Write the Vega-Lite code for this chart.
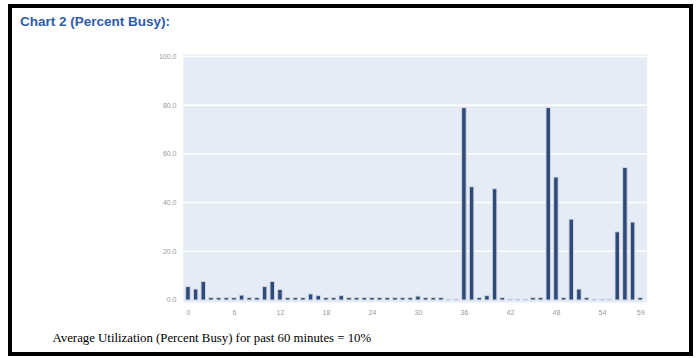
{
  "$schema": "https://vega.github.io/schema/vega-lite/v6.json",
  "width": 681,
  "height": 348,
  "autosize": {"type": "none"},
  "padding": {"left": 10, "top": 6, "right": 6, "bottom": 4},
  "background": "#ffffff",
  "config": {"view": {"stroke": "#000000", "strokeWidth": 4, "fill": "#ffffff"}},
  "title": {
    "text": "Chart 2 (Percent Busy):",
    "anchor": "start",
    "frame": "group",
    "offset": -22,
    "dx": 10,
    "font": "Liberation Sans",
    "fontSize": 13.5,
    "fontWeight": "bold",
    "color": "#2f5ca6"
  },
  "layer": [
    {
      "data": {"values": [{}]},
      "mark": {"type": "rect", "color": "#e6ecf6"},
      "encoding": {
        "x": {"datum": -0.6, "type": "quantitative", "scale": {"domain": [-22.56, 64.97], "nice": false, "zero": false}},
        "x2": {"datum": 59.9},
        "y": {"datum": -1, "type": "quantitative", "scale": {"domain": [-22.18, 120.74], "nice": false, "zero": false}},
        "y2": {"datum": 100.8}
      }
    },
    {
      "data": {"values": [{"grid": 20}, {"grid": 40}, {"grid": 60}, {"grid": 80}, {"grid": 100}]},
      "mark": {"type": "rule", "color": "#ffffff", "strokeWidth": 1.5},
      "encoding": {
        "y": {"field": "grid", "type": "quantitative"},
        "x": {"datum": -0.6, "type": "quantitative"},
        "x2": {"datum": 59.9}
      }
    },
    {
      "data": {"values": [
        {"minute": 0, "busy": 5.5}, {"minute": 1, "busy": 4.5}, {"minute": 2, "busy": 7.6}, {"minute": 3, "busy": 1},
        {"minute": 4, "busy": 1}, {"minute": 5, "busy": 1}, {"minute": 6, "busy": 1}, {"minute": 7, "busy": 2},
        {"minute": 8, "busy": 1}, {"minute": 9, "busy": 1}, {"minute": 10, "busy": 5.5}, {"minute": 11, "busy": 7.6},
        {"minute": 12, "busy": 4.3}, {"minute": 13, "busy": 1}, {"minute": 14, "busy": 1}, {"minute": 15, "busy": 1},
        {"minute": 16, "busy": 2.5}, {"minute": 17, "busy": 1.8}, {"minute": 18, "busy": 1}, {"minute": 19, "busy": 1},
        {"minute": 20, "busy": 1.8}, {"minute": 21, "busy": 1}, {"minute": 22, "busy": 1}, {"minute": 23, "busy": 1},
        {"minute": 24, "busy": 1}, {"minute": 25, "busy": 1}, {"minute": 26, "busy": 1}, {"minute": 27, "busy": 1},
        {"minute": 28, "busy": 1}, {"minute": 29, "busy": 1}, {"minute": 30, "busy": 1.6}, {"minute": 31, "busy": 1},
        {"minute": 32, "busy": 1}, {"minute": 33, "busy": 1}, {"minute": 34, "busy": 0.3}, {"minute": 35, "busy": 0.3},
        {"minute": 36, "busy": 79}, {"minute": 37, "busy": 46.5}, {"minute": 38, "busy": 1}, {"minute": 39, "busy": 1.8},
        {"minute": 40, "busy": 45.7}, {"minute": 41, "busy": 1}, {"minute": 42, "busy": 0.3}, {"minute": 43, "busy": 0.3},
        {"minute": 44, "busy": 0.3}, {"minute": 45, "busy": 1}, {"minute": 46, "busy": 1}, {"minute": 47, "busy": 79},
        {"minute": 48, "busy": 50.5}, {"minute": 49, "busy": 1}, {"minute": 50, "busy": 33.2}, {"minute": 51, "busy": 4.5},
        {"minute": 52, "busy": 1}, {"minute": 53, "busy": 0.3}, {"minute": 54, "busy": 0.3}, {"minute": 55, "busy": 0.3},
        {"minute": 56, "busy": 28}, {"minute": 57, "busy": 54.4}, {"minute": 58, "busy": 32}, {"minute": 59, "busy": 1}
      ]},
      "mark": {"type": "bar", "size": 4.5, "color": "#2e4a78", "stroke": "#cfd6e1", "strokeWidth": 1},
      "encoding": {
        "x": {
          "field": "minute",
          "type": "quantitative",
          "scale": {"domain": [-22.56, 64.97], "nice": false, "zero": false},
          "axis": {
            "values": [0, 6, 12, 18, 24, 30, 36, 42, 48, 54, 59],
            "offset": -50,
            "domain": false,
            "ticks": false,
            "grid": false,
            "labelColor": "#9a9a9a",
            "labelFontSize": 7,
            "labelFont": "Liberation Sans",
            "labelPadding": 4,
            "labelFlush": false,
            "title": "Average Utilization (Percent Busy) for past 60 minutes = 10%",
            "titleFont": "Liberation Serif",
            "titleFontSize": 12.8,
            "titleFontWeight": "normal",
            "titleColor": "#000000",
            "titleX": 42,
            "titleY": 33,
            "titleAlign": "left",
            "titleAnchor": "start",
            "titleBaseline": "middle"
          }
        },
        "y": {
          "field": "busy",
          "type": "quantitative",
          "scale": {"domain": [-22.18, 120.74], "nice": false, "zero": false},
          "axis": {
            "values": [0, 20, 40, 60, 80, 100],
            "format": ".1f",
            "offset": -171,
            "domain": false,
            "ticks": false,
            "grid": false,
            "labelColor": "#9a9a9a",
            "labelFontSize": 7,
            "labelFont": "Liberation Sans",
            "labelPadding": 5,
            "title": null
          }
        },
        "y2": {"datum": 0}
      }
    }
  ]
}
